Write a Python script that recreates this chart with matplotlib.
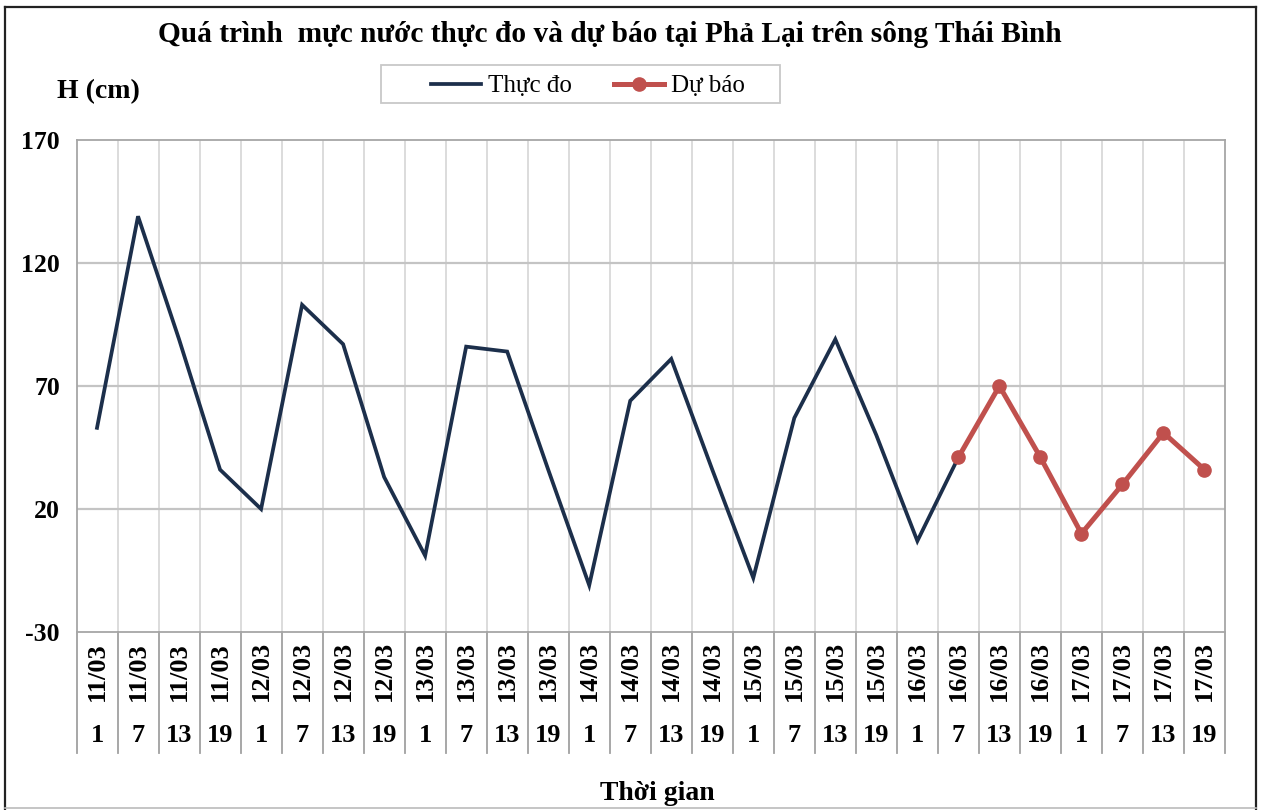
import matplotlib
matplotlib.use("Agg")
import matplotlib.pyplot as plt
from matplotlib.transforms import blended_transform_factory
from matplotlib.lines import Line2D
from matplotlib.patches import Rectangle

# ---------------- data ----------------
dates = ["11/03", "11/03", "11/03", "11/03",
         "12/03", "12/03", "12/03", "12/03",
         "13/03", "13/03", "13/03", "13/03",
         "14/03", "14/03", "14/03", "14/03",
         "15/03", "15/03", "15/03", "15/03",
         "16/03", "16/03", "16/03", "16/03",
         "17/03", "17/03", "17/03", "17/03"]
hours = ["1", "7", "13", "19", "1", "7", "13", "19",
         "1", "7", "13", "19", "1", "7", "13", "19",
         "1", "7", "13", "19", "1", "7", "13", "19",
         "1", "7", "13", "19"]
observed = [53, 139, 89, 36, 20, 103, 87, 33, 1, 86, 84, 36, -11, 64,
            81, 36, -8, 57, 89, 50, 7, 41]
forecast = [41, 70, 41, 10, 30, 51, 36]
forecast_start = 21
yticks = [-30, 20, 70, 120, 170]

title = "Quá trình  mực nước thực đo và dự báo tại Phả Lại trên sông Thái Bình"
ylabel = "H (cm)"
xlabel = "Thời gian"
labels = ["Thực đo", "Dự báo"]

# ---------------- style ----------------
SERIF = ["Liberation Serif", "DejaVu Serif"]
navy = "#1c2f4b"
red = "#c0504d"

fig = plt.figure(figsize=(12.63, 8.10), dpi=100)
W, H = 1263, 810
ax = fig.add_axes([76.5 / W, 1 - 632 / H, (1225 - 76.5) / W, (632 - 140) / H])

n = len(dates)
ax.set_xlim(-0.5, n - 0.5)
ax.set_ylim(yticks[0], yticks[-1])

# grid
for k in range(n - 1):
    ax.axvline(k + 0.5, color="#d9d9d9", lw=1.3, zorder=1)
for v in yticks[1:-1]:
    ax.axhline(v, color="#c4c4c4", lw=1.6, zorder=1)

# lines
x_obs = list(range(len(observed)))
x_fc = list(range(forecast_start, forecast_start + len(forecast)))
l1, = ax.plot(x_obs, observed, color=navy, lw=2.7, zorder=3,
              solid_joinstyle="miter")
l2, = ax.plot(x_fc, forecast, color=red, lw=3.6, marker="o", ms=9.5,
              zorder=4)

# axes style
for s in ax.spines.values():
    s.set_color("#a6a6a6")
    s.set_linewidth(1.3)
ax.set_xticks([])
ax.set_yticks(yticks)
ax.set_yticklabels([str(v) for v in yticks], fontfamily=SERIF,
                   fontweight="bold", fontsize=18.5)
ax.tick_params(axis="y", length=0, pad=12)

# two-level category axis
tr = blended_transform_factory(ax.transData, ax.transAxes)
for k in range(n + 1):
    ax.add_line(Line2D([k - 0.5, k - 0.5], [0, -0.245], transform=tr,
                       color="#a0a0a0", lw=1.3, clip_on=False))
for i, (d, h) in enumerate(zip(dates, hours)):
    ax.text(i, -0.080, d, transform=tr, rotation=90, ha="center",
            va="center", fontfamily=SERIF, fontweight="bold", fontsize=19)
    ax.text(i, -0.211, h, transform=tr, ha="center", va="center",
            fontfamily=SERIF, fontweight="bold", fontsize=19)

# texts
fig.text(610 / W, 1 - 35 / H, title, ha="center", va="center",
         fontfamily=SERIF, fontweight="bold", fontsize=21.2)
fig.text(57 / W, 1 - 92 / H, ylabel, ha="left", va="center",
         fontfamily=SERIF, fontweight="bold", fontsize=20)
fig.text(657 / W, 1 - 794 / H, xlabel, ha="center", va="center",
         fontfamily=SERIF, fontweight="bold", fontsize=20)

# legend box + entries
fig.add_artist(Rectangle((381 / W, 1 - 103 / H), (780 - 381) / W, 38 / H,
                         transform=fig.transFigure, facecolor="white",
                         edgecolor="#c8c8c8", lw=1.3))
leg = fig.legend([l1, l2], labels, loc="center",
                 bbox_to_anchor=(588 / W, 1 - 86 / H), ncol=2,
                 frameon=False, prop={"family": SERIF, "size": 18},
                 handlelength=2.0, handletextpad=0.28, columnspacing=1.7,
                 borderpad=0.0)

# outer frame
fig.add_artist(Line2D([5 / W, 5 / W], [0, 1 - 7 / H], transform=fig.transFigure,
                      color="#222222", lw=1.6))
fig.add_artist(Line2D([5 / W, 1256 / W], [1 - 7 / H, 1 - 7 / H],
                      transform=fig.transFigure, color="#222222", lw=1.6))
fig.add_artist(Line2D([1256 / W, 1256 / W], [0, 1 - 7 / H],
                      transform=fig.transFigure, color="#222222", lw=1.6))
fig.add_artist(Line2D([5 / W, 1256 / W], [1 - 808 / H, 1 - 808 / H],
                      transform=fig.transFigure, color="#bbbbbb", lw=1.2))

fig.savefig("out.png", dpi=100, facecolor="white")
